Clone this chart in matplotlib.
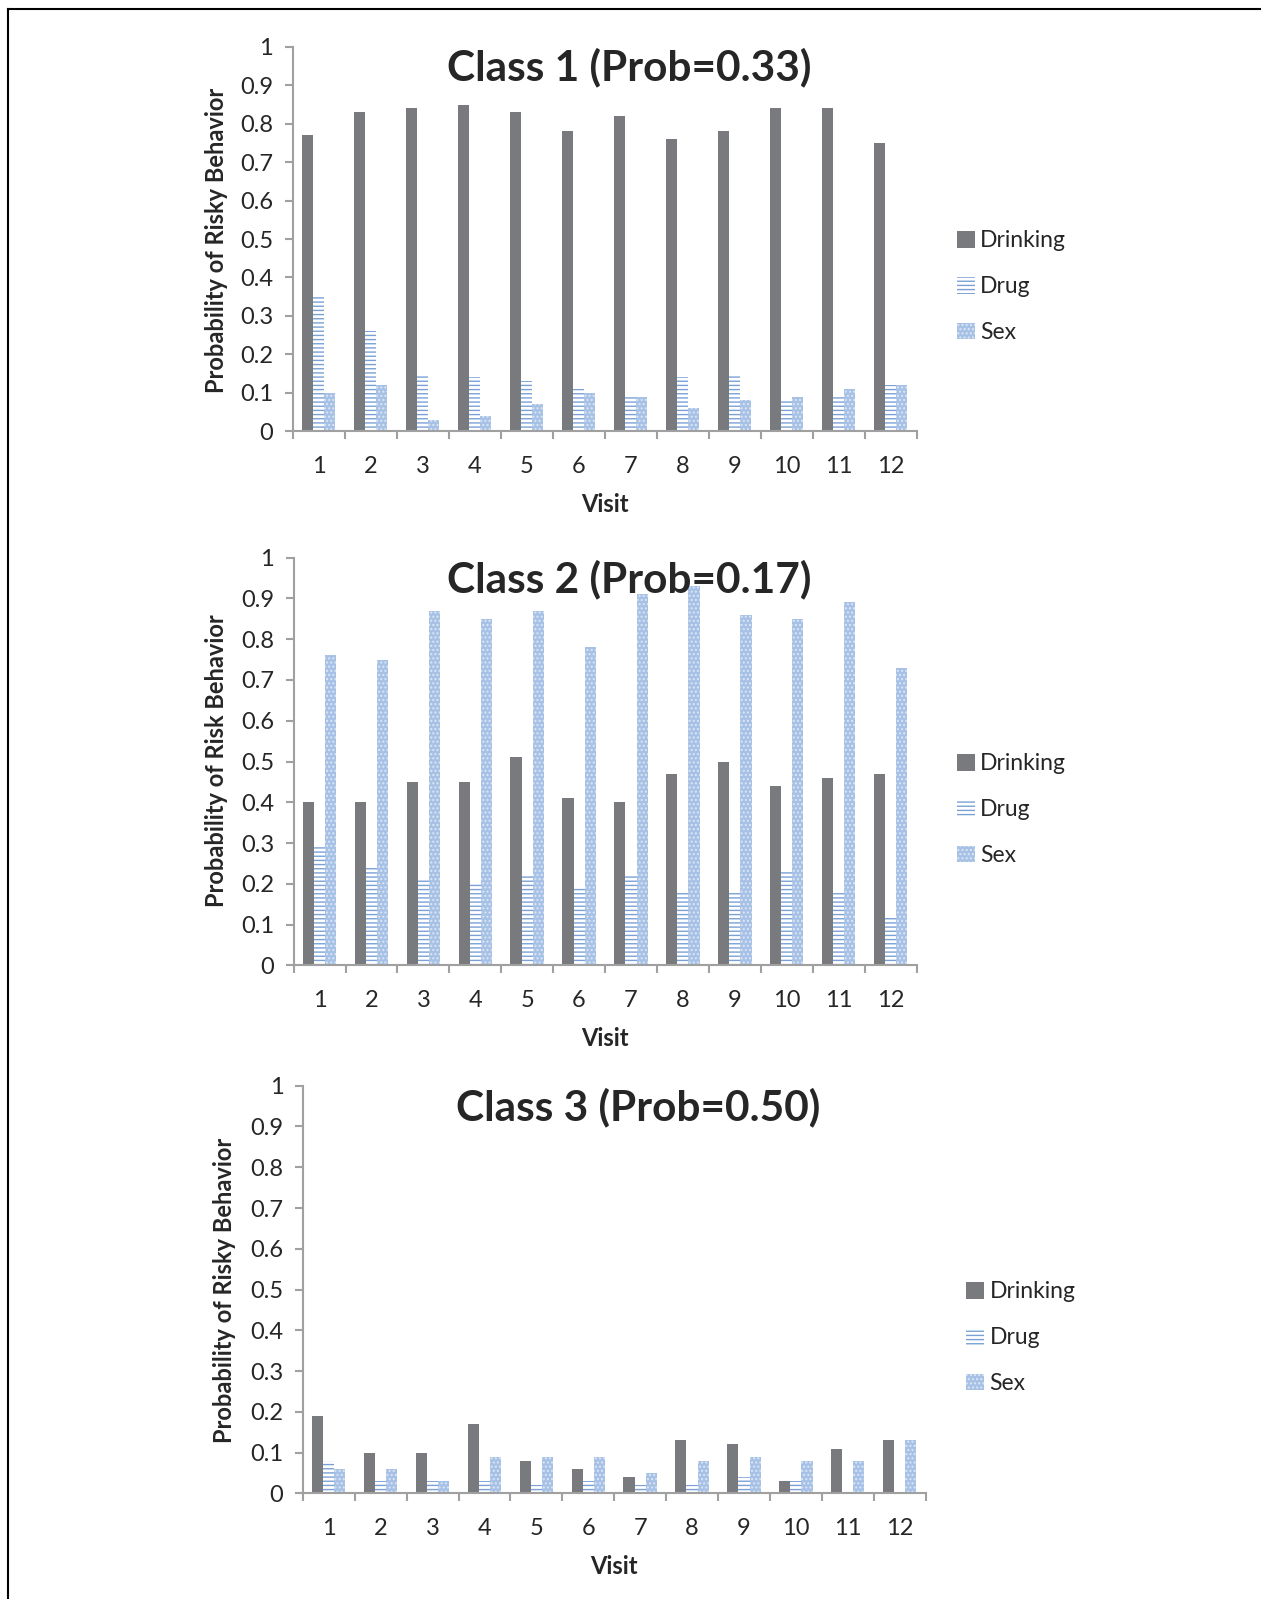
import numpy as np
import matplotlib.pyplot as plt
from matplotlib.lines import Line2D
from matplotlib.patches import Patch

plt.rcParams['font.family'] = ['Lato', 'DejaVu Sans']
plt.rcParams['hatch.linewidth'] = 1.0

visits = np.arange(1, 13)
series = ["Drinking", "Drug", "Sex"]

c1_drinking = [0.77, 0.83, 0.84, 0.85, 0.83, 0.78, 0.82, 0.76, 0.78, 0.84, 0.84, 0.75]
c1_drug = [0.35, 0.26, 0.15, 0.14, 0.13, 0.11, 0.09, 0.14, 0.15, 0.08, 0.09, 0.12]
c1_sex = [0.10, 0.12, 0.03, 0.04, 0.07, 0.10, 0.09, 0.06, 0.08, 0.09, 0.11, 0.12]

c2_drinking = [0.40, 0.40, 0.45, 0.45, 0.51, 0.41, 0.40, 0.47, 0.50, 0.44, 0.46, 0.47]
c2_drug = [0.29, 0.24, 0.21, 0.20, 0.22, 0.19, 0.22, 0.18, 0.18, 0.23, 0.18, 0.12]
c2_sex = [0.76, 0.75, 0.87, 0.85, 0.87, 0.78, 0.91, 0.93, 0.86, 0.85, 0.89, 0.73]

c3_drinking = [0.19, 0.10, 0.10, 0.17, 0.08, 0.06, 0.04, 0.13, 0.12, 0.03, 0.11, 0.13]
c3_drug = [0.08, 0.03, 0.03, 0.03, 0.02, 0.03, 0.02, 0.02, 0.04, 0.03, 0.00, 0.00]
c3_sex = [0.06, 0.06, 0.03, 0.09, 0.09, 0.09, 0.05, 0.08, 0.09, 0.08, 0.08, 0.13]

titles = ["Class 1 (Prob=0.33)", "Class 2 (Prob=0.17)", "Class 3 (Prob=0.50)"]
ylabels = ["Probability of Risky Behavior", "Probability of Risk Behavior",
           "Probability of Risky Behavior"]
data = [(c1_drinking, c1_drug, c1_sex),
        (c2_drinking, c2_drug, c2_sex),
        (c3_drinking, c3_drug, c3_sex)]

W, H = 1261, 1599
fig = plt.figure(figsize=(W / 100, H / 100), dpi=100)

def fx(px):
    return px / W

def fy(py):
    return 1 - py / H

# bar styles: solid grey, blue horizontal lines, dotted light blue
styles = [dict(facecolor='#797a7e', edgecolor='#797a7e', hatch=None),
          dict(facecolor='white', edgecolor='#7aa1d6', hatch='----'),
          dict(facecolor='#a6c1e5', edgecolor='#dbe6f5', hatch='....')]

# panel boxes in pixels: left, right, top (y=1), bottom (y=0)
boxes = [(292.6, 916.5, 46.9, 431.2),
         (293.6, 916.5, 557.6, 965.4),
         (302.8, 925.6, 1085.7, 1493.4)]
title_pos = [(629, 67), (629, 579), (638, 1107)]
ylabel_pos = [(216, 240), (216, 761), (225, 1290)]
legend_pos = [(946, 219), (946, 742), (955, 1270)]

axis_grey = '#a0a0a0'
text_col = '#262626'
bw = 0.215

for i in range(3):
    l, r, t, b = boxes[i]
    ax = fig.add_axes([fx(l), fy(b), fx(r - l), (b - t) / H])
    for k, vals in enumerate(data[i]):
        ax.bar(visits + (k - 1) * bw, vals, width=bw, linewidth=0,
               label=series[k], **styles[k])
    ax.set_xlim(0.5, 12.5)
    ax.set_ylim(0, 1)
    for s in ['top', 'right']:
        ax.spines[s].set_visible(False)
    for s in ['left', 'bottom']:
        ax.spines[s].set_color(axis_grey)
        ax.spines[s].set_linewidth(1.5)
    ax.set_yticks(np.arange(0, 1.01, 0.1))
    ax.set_yticklabels(['0'] + ['%.1f' % v for v in np.arange(0.1, 0.95, 0.1)] + ['1'])
    ax.set_xticks(np.arange(0.5, 13, 1))
    ax.set_xticklabels([])
    ax.set_xticks(visits, minor=True)
    ax.set_xticklabels([str(v) for v in visits], minor=True)
    ax.tick_params(axis='y', length=6, width=1.5, color=axis_grey, pad=8,
                   labelsize=17, labelcolor=text_col)
    ax.tick_params(axis='x', which='major', length=6, width=1.5, color=axis_grey)
    ax.tick_params(axis='x', which='minor', length=0, pad=18,
                   labelsize=17, labelcolor=text_col)

    fig.text(fx(title_pos[i][0]), fy(title_pos[i][1]), titles[i], fontsize=30.5,
             fontweight='bold', color=text_col, ha='center', va='center')
    fig.text(fx(ylabel_pos[i][0]), fy(ylabel_pos[i][1]), ylabels[i], fontsize=17,
             fontweight='bold', color=text_col, ha='center', va='center',
             rotation=90)
    fig.text(fx((l + r) / 2), fy(b + 73), "Visit", fontsize=17,
             fontweight='bold', color=text_col, ha='center', va='center')

    handles = [Patch(linewidth=0, **st) for st in styles]
    fig.legend(handles, series, loc='upper left',
               bbox_to_anchor=(fx(legend_pos[i][0]), fy(legend_pos[i][1])),
               frameon=False, fontsize=16.5, handlelength=0.75, handleheight=0.75,
               handletextpad=0.25, labelspacing=1.08, borderpad=0,
               labelcolor=text_col)

# outer frame lines (left and top)
fig.add_artist(Line2D([fx(8), fx(8)], [0, fy(9)], color='black', linewidth=1.5))
fig.add_artist(Line2D([fx(8), 1], [fy(9), fy(9)], color='black', linewidth=1.5))

fig.savefig("out.png", dpi=100)
